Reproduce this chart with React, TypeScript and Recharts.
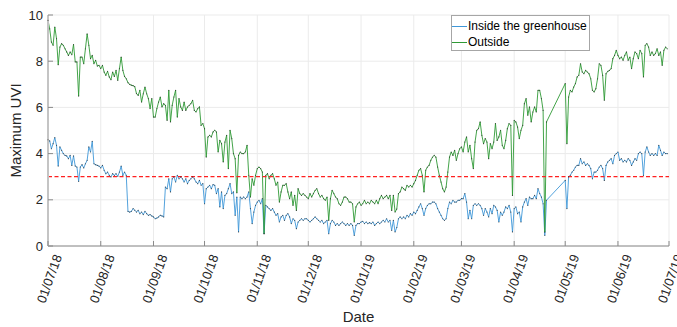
import React from "react";
import {
  CartesianGrid,
  Legend,
  Line,
  LineChart,
  ReferenceLine,
  XAxis,
  YAxis,
} from "recharts";

// daily maximum UVI, day 0 = 01/07/18 (null = no measurement)
const inside: (number | null)[] = [
  4.6, 4.55, 4.21, 4.43, 4.69, 4.36, 3.46, 4.29, 4.14, 4.0,
  3.92, 3.9, 3.78, 3.92, 3.49, 3.9, 3.46, 3.42, 2.8, 3.42,
  3.52, 3.38, 3.56, 3.71, 4.29, 4.07, 4.53, 3.56, 3.52, 3.49,
  3.46, 3.38, 3.49, 3.28, 3.13, 3.2, 3.06, 2.99, 3.13, 3.06,
  3.13, 3.02, 3.2, 3.46, 3.06, 3.2, 3.06, 1.5, 1.47, 1.5,
  1.62, 1.55, 1.47, 1.54, 1.4, 1.47, 1.36, 1.5, 1.4, 1.33,
  1.36, 1.3, 1.26, 1.18, 1.21, 1.26, 1.33, 1.3, 1.26, 2.55,
  2.48, 2.91, 2.34, 2.91, 2.99, 2.77, 3.06, 2.91, 2.99, 2.91,
  2.77, 2.91, 2.7, 2.84, 2.91, 2.99, 2.91, 2.77, 2.7, 2.84,
  2.63, 2.7, 1.83, 2.48, 2.55, 2.63, 2.48, 2.66, 2.63, 2.27,
  2.48, 1.69, 2.34, 1.62, 2.19, 2.27, 2.48, 2.7, 2.27, 2.34,
  1.33, 2.12, 0.61, 2.12, 2.05, 2.12, 2.05, 2.12, 2.34, 1.62,
  0.97, 1.47, 1.76, 1.9, 1.98, 1.83, 2.05, 0.53, 1.76, 1.69,
  1.62, 1.54, 1.62, 1.47, 1.33, 1.4, 1.04, 1.26, 1.33, 1.11,
  1.33, 1.4, 1.26, 0.97, 1.18, 1.11, 0.75, 1.04, 1.11, 1.18,
  1.11, 1.18, 1.18, 1.11, 1.04, 1.11, 1.18, 1.26, 1.18, 1.11,
  1.04, 1.11, 0.97, 1.04, 1.11, 0.53, 0.97, 1.11, 1.04, 0.89,
  0.97, 0.89, 0.97, 1.04, 0.97, 0.89, 0.97, 0.89, 0.97, 0.89,
  0.46, 0.89, 0.97, 0.97, 1.04, 1.07, 0.97, 1.04, 0.97, 1.01,
  0.97, 1.04, 0.89, 0.97, 1.04, 0.97, 1.04, 1.11, 1.04, 1.18,
  1.04, 1.11, 0.68, 1.11, 0.61, 0.8, 1.18, 1.26, 1.18, 1.26,
  1.18, 1.33, 1.26, 1.4, 1.33, 1.47, 1.4, 1.54, 1.69, 1.83,
  1.62, 1.33, 1.62, 1.76, 1.83, 1.83, 1.9, 1.9, 1.83, 1.62,
  1.47, 1.33, 1.18, 1.11, 1.18, 1.62, 1.9, 1.83, 1.98, 1.9,
  1.9, 1.98, 1.98, 2.05, 2.05, 2.27, 1.9, 1.18, 1.54, 1.18,
  1.76, 1.83, 1.76, 1.83, 1.76, 1.62, 1.33, 1.62, 1.47, 1.26,
  1.62, 1.4, 1.76, 1.69, 1.54, 1.04, 1.47, 1.33, 1.47, 1.69,
  1.62, 1.76, 1.47, 0.61, 1.62, 1.69, 1.4, 1.47, 1.04, 1.69,
  1.9, 2.05, 1.76, 2.12, 2.05, 2.05, 2.19, 2.05, 2.48, 2.27,
  2.12, 1.83, 0.46, 1.98, null, null, null, null, null, null,
  null, null, null, null, 2.84, 1.62, 2.99, 3.06, 3.2, 3.28,
  3.42, 3.49, 3.49, 3.78, 3.56, 3.64, 3.49, 3.56, 3.49, 3.35,
  2.91, 3.2, 3.2, 3.28, 3.42, 3.49, 3.35, 2.84, 3.49, 3.64,
  3.71, 3.78, 3.56, 3.92, 4.0, 4.07, 3.71, 3.78, 3.64, 3.71,
  3.64, 3.78, 3.71, 3.49, 3.64, 3.78, 3.71, 4.0, 4.07, 4.0,
  3.06, 4.07, 4.29, 4.07, 3.92, 4.0, 3.92, 4.0, 3.92, 4.36,
  4.14, 3.92, 4.07, 4.0, 4.0,
];

const outside: (number | null)[] = [
  9.77, 9.4, 8.83, 8.69, 9.48, 8.98, 7.85, 8.61, 8.76, 8.69,
  8.54, 8.4, 8.25, 8.4, 8.28, 8.72, 7.97, 7.97, 6.49, 8.18,
  8.18, 7.89, 8.54, 9.18, 8.69, 8.11, 8.25, 7.89, 8.04, 7.79,
  7.82, 7.68, 7.82, 7.53, 7.39, 7.56, 7.32, 7.2, 7.53, 7.34,
  7.6, 7.17, 7.68, 8.18, 7.6, 7.34, 7.24, 7.07, 7.0, 6.96,
  6.94, 6.9, 6.6, 6.52, 6.74, 6.23, 6.59, 6.88, 6.59, 6.38,
  5.95, 6.38, 5.58, 5.58, 5.95, 6.23, 6.45, 6.02, 6.16, 6.09,
  5.44, 6.74, 5.37, 6.09, 6.45, 6.74, 5.58, 6.38, 6.02, 5.87,
  6.23, 5.87, 6.02, 6.09, 6.16, 6.31, 5.87, 5.8, 5.95, 6.02,
  5.22, 5.3, 5.08, 3.85, 4.72, 4.79, 4.72, 4.94, 5.01, 4.94,
  4.07, 4.57, 4.43, 3.64, 4.5, 4.79, 3.35, 5.01, 4.65, 4.0,
  3.78, 2.3, 3.92, 4.07, 4.0, 4.0, 4.07, 4.36, 3.06, 2.12,
  2.91, 2.63, 3.06, 3.35, 3.42, 3.35, 3.2, 0.53, 3.06, 3.13,
  2.91, 3.06, 3.13, 2.91, 2.63, 2.77, 1.9, 2.34, 2.63, 2.63,
  2.7, 2.34, 2.05, 2.34, 1.76, 2.19, 1.54, 2.48, 2.27, 2.19,
  2.27, 2.19, 2.12, 2.05, 2.27, 2.12, 2.27, 2.41, 2.48, 2.27,
  2.12, 2.19, 2.05, 1.98, 2.12, 1.11, 2.05, 2.41, 2.27, 2.12,
  2.05, 1.83, 1.76, 1.9, 2.12, 2.12, 2.05, 1.9, 1.9, 1.83,
  1.04, 1.69, 1.83, 1.9, 1.76, 1.83, 1.98, 1.83, 1.9, 1.83,
  1.98, 1.9, 1.83, 1.98, 1.83, 2.05, 2.19, 2.05, 2.12, 2.19,
  2.05, 2.19, 1.54, 2.19, 1.47, 1.6, 2.27, 2.34, 2.55, 2.48,
  2.41, 2.63, 2.55, 2.63, 2.55, 2.7, 2.84, 3.06, 3.28, 3.35,
  3.06, 2.34, 3.28, 3.42, 3.49, 3.71, 3.85, 3.92, 3.85, 3.42,
  3.06, 2.77, 2.48, 2.34, 2.55, 3.2, 3.85, 4.07, 3.92, 4.14,
  3.71, 4.0, 4.21, 4.29, 4.07, 4.5, 4.72, 4.07, 4.36, 3.78,
  3.35, 4.5, 5.01, 5.08, 5.37, 4.79, 4.43, 4.65, 4.5, 3.78,
  4.43, 4.21, 4.5, 5.3, 4.57, 4.72, 5.01, 4.36, 4.21, 4.57,
  5.08, 5.3, 5.22, 2.19, 5.44, 5.37, 5.15, 4.65, 5.01, 5.22,
  6.16, 6.38, 5.66, 6.02, 5.37, 5.8, 6.02, 5.8, 6.74, 6.74,
  6.38, 5.87, 0.6, 5.37, null, null, null, null, null, null,
  null, null, null, null, 7.03, 4.43, 6.45, 6.74, 6.67, 6.88,
  7.03, 7.32, 7.39, 7.89, 7.53, 7.46, 7.6, 7.53, 7.46, 7.24,
  6.74, 6.67, 6.81, 7.24, 7.89, 7.82, 7.39, 6.31, 7.46, 7.56,
  7.6, 7.68, 8.11, 8.25, 8.47, 8.25, 8.11, 8.18, 8.04, 8.25,
  8.4, 8.04, 8.18, 7.68, 8.11, 8.4, 8.33, 8.11, 8.47, 8.33,
  7.32, 8.69, 8.76, 8.61, 8.25, 8.4, 8.25, 8.33, 8.54, 8.25,
  8.4, 7.82, 8.47, 8.61, 8.54,
];

// first day of each month, counted from 01/07/18
const monthTicks = [0, 31, 62, 92, 123, 153, 184, 215, 243, 274, 304, 335, 365];
const monthLabels = [
  "01/07/18", "01/08/18", "01/09/18", "01/10/18", "01/11/18", "01/12/18",
  "01/01/19", "01/02/19", "01/03/19", "01/04/19", "01/05/19", "01/06/19", "01/07/19",
];
const uviTicks = [0, 2, 4, 6, 8, 10];
const seriesNames = ["Inside the greenhouse", "Outside"];
const threshold = 3;

const COLORS = ["#3f97d8", "#2f9a35"];
const FONT = '"Liberation Sans", Arial, Helvetica, sans-serif';
const TEXT = "#262626";
const AXIS = "#8a8a8a";

const data = inside.map((v, i) => ({ day: i, inside: v, outside: outside[i] }));

const DateTick = (props: any) => {
  const { x, y, payload } = props;
  const label = monthLabels[monthTicks.indexOf(payload.value)];
  const ax = x + 10;
  const ay = y + 9;
  return (
    <g>
      <line x1={x} y1={y} x2={x} y2={y - 5} stroke={AXIS} />
      <text
        x={ax}
        y={ay}
        transform={`rotate(-70 ${ax} ${ay})`}
        textAnchor="end"
        dominantBaseline="central"
        fontFamily={FONT}
        fontSize={13}
        fill={TEXT}
      >
        {label}
      </text>
    </g>
  );
};

const TopTick = (props: any) => {
  const { x, y } = props;
  return <line x1={x} y1={y} x2={x} y2={y + 5} stroke={AXIS} />;
};

const UviTick = (props: any) => {
  const { x, y, payload } = props;
  return (
    <g>
      <line x1={x} y1={y} x2={x + 5} y2={y} stroke={AXIS} />
      <text
        x={x - 5}
        y={y}
        textAnchor="end"
        dominantBaseline="central"
        fontFamily={FONT}
        fontSize={13}
        fill={TEXT}
      >
        {payload.value}
      </text>
    </g>
  );
};

const RightTick = (props: any) => {
  const { x, y } = props;
  return <line x1={x} y1={y} x2={x - 5} y2={y} stroke={AXIS} />;
};

const LegendBox = () => (
  <div
    style={{
      border: "1px solid #a6a6a6",
      background: "#fff",
      padding: "3px 2px 0 0",
      fontFamily: FONT,
      fontSize: 12,
      lineHeight: "15.5px",
      color: "#000",
      whiteSpace: "nowrap",
    }}
  >
    {seriesNames.map((name, i) => (
      <div key={name} style={{ display: "flex", alignItems: "center" }}>
        <span
          style={{
            display: "inline-block",
            width: 15,
            height: 0,
            borderTop: `1px solid ${COLORS[i]}`,
            marginRight: 1,
          }}
        />
        {name}
      </div>
    ))}
  </div>
);

export default function App() {
  return (
    <div style={{ position: "absolute", left: 0, top: 0, width: 677, height: 327, background: "#fff" }}>
      <LineChart width={677} height={327} data={data} margin={{ top: 15, right: 8, bottom: 0, left: 8 }}>
        <CartesianGrid stroke="#ebebeb" />
        <XAxis
          dataKey="day"
          type="number"
          domain={[0, 365]}
          ticks={monthTicks}
          interval={0}
          height={81}
          tickSize={0}
          tickMargin={0}
          stroke={AXIS}
          tick={<DateTick />}
          label={{ value: "Date", position: "insideBottom", offset: 5, fontFamily: FONT, fontSize: 15, fill: TEXT }}
        />
        <XAxis
          xAxisId="top"
          orientation="top"
          dataKey="day"
          type="number"
          domain={[0, 365]}
          ticks={monthTicks}
          interval={0}
          height={0}
          tickSize={0}
          tickMargin={0}
          stroke={AXIS}
          tick={<TopTick />}
        />
        <YAxis
          domain={[0, 10]}
          ticks={uviTicks}
          interval={0}
          width={40}
          tickSize={0}
          tickMargin={0}
          stroke="#c4c4c4"
          strokeWidth={2}
          tick={<UviTick />}
          label={{ value: "Maximum UVI", angle: -90, position: "insideLeft", offset: 8, style: { textAnchor: "middle" }, fontFamily: FONT, fontSize: 15, fill: TEXT }}
        />
        <YAxis
          yAxisId="right"
          orientation="right"
          domain={[0, 10]}
          ticks={uviTicks}
          interval={0}
          width={0}
          tickSize={0}
          tickMargin={0}
          stroke={AXIS}
          tick={<RightTick />}
        />
        <Legend
          layout="horizontal"
          verticalAlign="middle"
          align="center"
          content={<LegendBox />}
          wrapperStyle={{ top: 15, left: 451, width: "auto" }}
        />
        <Line
          type="linear"
          dataKey="inside"
          name={seriesNames[0]}
          stroke={COLORS[0]}
          strokeWidth={0.9}
          dot={{ r: 0.6, fill: "#1b1b1b", fillOpacity: 0.7, stroke: "none" }}
          connectNulls
          isAnimationActive={false}
        />
        <Line
          type="linear"
          dataKey="outside"
          name={seriesNames[1]}
          stroke={COLORS[1]}
          strokeWidth={0.9}
          dot={{ r: 0.6, fill: "#1b1b1b", fillOpacity: 0.7, stroke: "none" }}
          connectNulls
          isAnimationActive={false}
        />
        <ReferenceLine y={threshold} stroke="#ff2020" strokeWidth={1.3} strokeDasharray="4 2.5" />
      </LineChart>
    </div>
  );
}
